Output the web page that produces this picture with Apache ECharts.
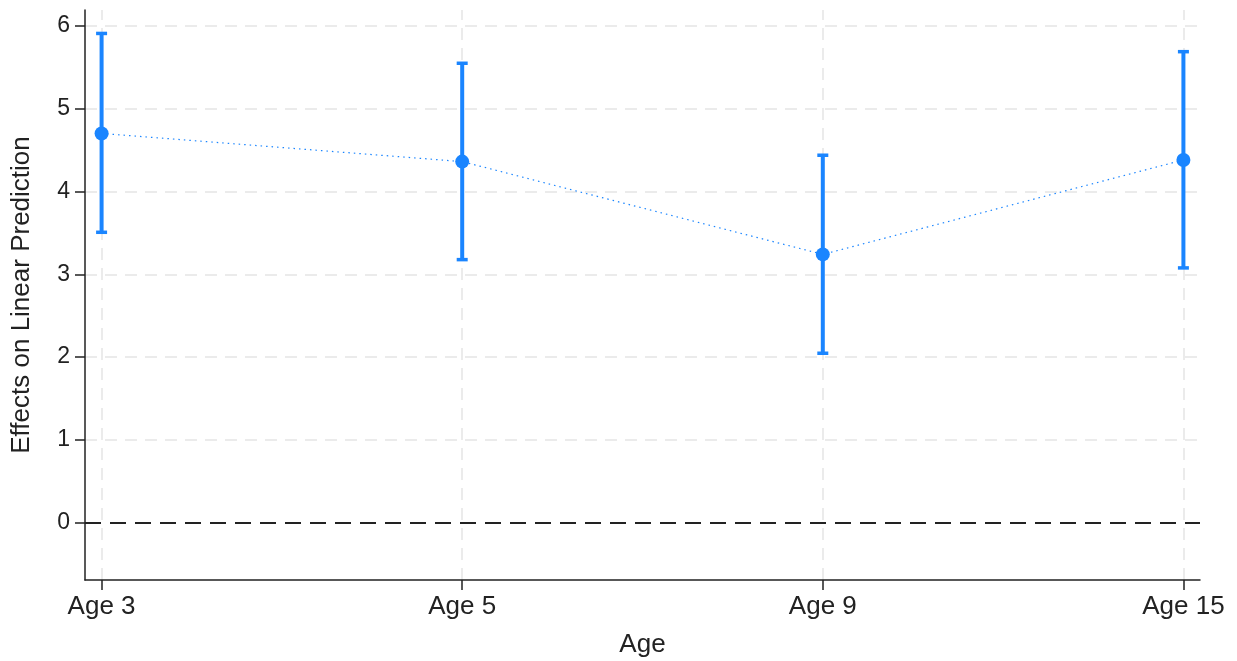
<!DOCTYPE html>
<html>
<head>
<meta charset="utf-8">
<script src="https://cdn.jsdelivr.net/npm/echarts@6/dist/echarts.min.js"></script>
<style>
  html, body { margin: 0; padding: 0; background: #fff; }
  #chart { width: 1237px; height: 661px; }
</style>
</head>
<body>
<div id="chart"></div>
<script>
// data
const ages = ['Age 3', 'Age 5', 'Age 9', 'Age 15']
const estimates = [4.70, 4.36, 3.24, 4.38]
const lower = [3.51, 3.18, 2.05, 3.08]
const upper = [5.91, 5.55, 4.44, 5.69]
const yTicks = [0, 1, 2, 3, 4, 5, 6]

const blue = '#1a85ff'
const ink = '#222222'
const gridGray = '#ebebeb'
const font = 'Liberation Sans, Arial, sans-serif'

const xIdx = ages.map((_, i) => i)
const points = estimates.map((v, i) => [i, v])
const bars = ages.map((_, i) => [i, lower[i], upper[i]])

const chart = echarts.init(document.getElementById('chart'))

chart.setOption({
  animation: false,
  textStyle: { fontFamily: font },
  grid: { left: 85, right: 37, top: 10, bottom: 81, outerBoundsMode: 'none', containLabel: false },
  xAxis: {
    type: 'value',
    min: -0.046,
    max: 3.046,
    name: 'Age',
    nameLocation: 'middle',
    nameGap: 52,
    nameTextStyle: { fontSize: 26, color: ink, fontFamily: font },
    axisLine: { show: true, onZero: false, lineStyle: { color: ink, width: 1.5 } },
    axisTick: { show: true, customValues: xIdx, length: 10, lineStyle: { color: ink, width: 1.5 } },
    axisLabel: {
      customValues: xIdx,
      formatter: (v) => ages[Math.round(v)],
      fontSize: 26,
      color: ink,
      margin: 14,
    },
    splitLine: { show: false },
  },
  yAxis: {
    type: 'value',
    min: -0.69,
    max: 6.19,
    name: 'Effects on Linear Prediction',
    nameLocation: 'middle',
    nameGap: 50,
    nameTextStyle: { fontSize: 26, color: ink, fontFamily: font },
    axisLine: { show: true, onZero: false, lineStyle: { color: ink, width: 1.5 } },
    axisTick: { show: true, customValues: yTicks, length: 10, lineStyle: { color: ink, width: 1.5 } },
    axisLabel: {
      customValues: yTicks,
      fontSize: 23,
      color: ink,
      margin: 15,
    },
    splitLine: { show: false },
  },
  series: [
    {
      // grid lines and zero reference line
      type: 'line',
      data: [],
      silent: true,
      z: 0,
      markLine: {
        z: 0,
        silent: true,
        symbol: 'none',
        label: { show: false },
        animation: false,
        data: [
          ...yTicks.filter((v) => v !== 0).map((v) => ({
            yAxis: v,
            lineStyle: { color: gridGray, width: 2, type: [12, 8] },
          })),
          ...xIdx.map((v) => ({
            xAxis: v,
            lineStyle: { color: gridGray, width: 2, type: [12, 8] },
          })),
          { yAxis: 0, lineStyle: { color: ink, width: 2, type: [16, 9] } },
        ],
      },
    },
    {
      type: 'line',
      data: points,
      symbol: 'none',
      lineStyle: { color: blue, width: 1.2, type: [1.5, 4] },
      z: 2,
    },
    {
      type: 'custom',
      data: bars,
      z: 3,
      renderItem: (params, api) => {
        const x = api.value(0)
        const lo = api.coord([x, api.value(1)])
        const hi = api.coord([x, api.value(2)])
        const fill = { fill: blue }
        return {
          type: 'group',
          children: [
            { type: 'rect', shape: { x: lo[0] - 2, y: hi[1], width: 4, height: lo[1] - hi[1] }, style: fill },
            { type: 'rect', shape: { x: hi[0] - 5.5, y: hi[1] - 1.5, width: 11, height: 3.5 }, style: fill },
            { type: 'rect', shape: { x: lo[0] - 5.5, y: lo[1] - 1.5, width: 11, height: 3.5 }, style: fill },
          ],
        }
      },
    },
    {
      type: 'scatter',
      data: points,
      symbol: 'circle',
      symbolSize: 14,
      itemStyle: { color: blue, opacity: 1 },
      z: 4,
    },
  ],
})
</script>
</body>
</html>
